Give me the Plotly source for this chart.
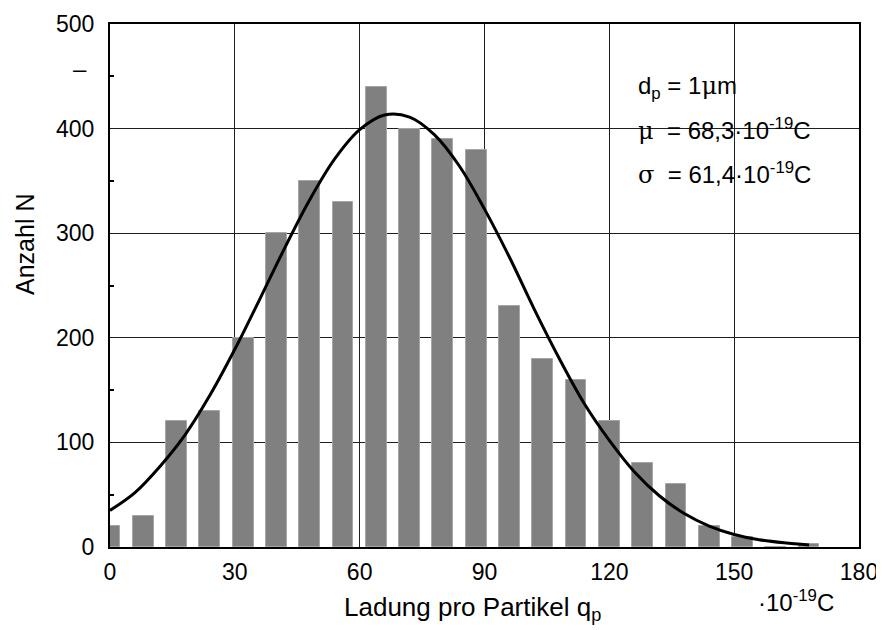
import plotly.graph_objects as go

# Histogram data (charge per particle, 1e-19 C) and counts
bar_q = [0, 8, 16, 24, 32, 40, 48, 56, 64, 72, 80, 88, 96, 104, 112, 120, 128, 136, 144, 152, 160, 168]
bar_n = [20, 30, 120, 130, 200, 300, 350, 330, 440, 400, 390, 380, 230, 180, 160, 120, 80, 60, 20, 10, 0, 3]

# Fitted distribution curve
curve_q = [0, 6, 12, 18, 24, 30, 36, 42, 48, 54, 60, 66, 72, 78, 84, 90, 96, 102, 108, 114, 120, 126,
           132, 138, 144, 150, 156, 162, 168]
curve_n = [35, 52, 77, 107, 145, 189, 237, 286, 332, 371, 399, 413, 411, 394, 364, 323, 277, 227, 180,
           137, 102, 72, 49, 32, 20, 12, 7, 4, 2]

x_ticks = [0, 30, 60, 90, 120, 150, 180]
y_ticks = [0, 100, 200, 300, 400, 500]

FONT = "Liberation Sans, Arial, sans-serif"

fig = go.Figure()
fig.add_trace(go.Bar(x=bar_q, y=bar_n, width=5, marker=dict(color="#808080", line=dict(color="#a6a6a6", width=1)),
                     showlegend=False))
fig.add_trace(go.Scatter(x=curve_q, y=curve_n, mode="lines", line=dict(color="black", width=3, shape="spline", smoothing=1),
                         showlegend=False))

# page body has an 8px margin: figure placed at (8, 8) in the window
OFF = 8
W, H = 884 - OFF, 630 - OFF
PL, PR, PT, PB = 110, 859, 24, 547  # plot area in window pixels
L, R, T, B = PL - OFF, W - (PR - OFF), PT - OFF, H - (PB - OFF)
pw, ph = PR - PL, PB - PT

def px(x):
    return (x - PL) / pw

def py(y):
    return (PB - y) / ph

fig.update_layout(
    width=W, height=H,
    margin=dict(l=L, r=R, t=T, b=B, autoexpand=False),
    paper_bgcolor="white", plot_bgcolor="white",
    font=dict(family=FONT, size=23, color="black"),
    bargap=0,
    xaxis=dict(range=[0, 180], tickvals=x_ticks, ticktext=[str(v) for v in x_ticks],
               showgrid=True, gridcolor="#1e1e1e", gridwidth=1, zeroline=False,
               showline=True, linecolor="black", linewidth=2, mirror=True,
               ticks="", ticklabelstandoff=3, layer="below traces", automargin=False,
               tickfont=dict(size=23)),
    yaxis=dict(range=[0, 500], tickvals=y_ticks, ticktext=[str(v) for v in y_ticks],
               showgrid=True, gridcolor="#1e1e1e", gridwidth=1, zeroline=False,
               showline=True, linecolor="black", linewidth=2, mirror=True,
               ticks="", ticklabelstandoff=9, automargin=False,
               minor=dict(tickvals=[50, 150, 250, 350, 450], ticks="inside", ticklen=4, tickwidth=2, tickcolor="black", showgrid=False),
               tickfont=dict(size=23)),
)

# white box behind the parameter text
fig.add_shape(type="rect", xref="paper", yref="paper", x0=px(625), x1=px(818), y0=py(205), y1=py(55),
              fillcolor="white", line=dict(width=0), layer="between")

ann = dict(xref="paper", yref="paper", showarrow=False)
f24 = dict(family=FONT, size=24, color="black")
fig.add_annotation(x=px(636), y=py(87), xanchor="left", yanchor="middle", font=f24,
                   text="d<sub>p</sub> = 1<span style='font-family:DejaVu Serif'>μ</span>m", **ann)
fig.add_annotation(x=px(636), y=py(129), xanchor="left", yanchor="middle", font=f24,
                   text="<span style='font-family:DejaVu Serif'>μ</span>  = 68,3·10<sup>-19</sup>C", **ann)
fig.add_annotation(x=px(636), y=py(173), xanchor="left", yanchor="middle", font=f24,
                   text="<span style='font-family:DejaVu Serif'>σ</span>  = 61,4·10<sup>-19</sup>C", **ann)

# axis titles and unit
fig.add_annotation(x=px(25), y=py(245), textangle=-90, xanchor="center", yanchor="middle",
                   font=dict(family=FONT, size=25, color="black"), text="Anzahl N", **ann)
fig.add_annotation(x=px(472), y=py(608), xanchor="center", yanchor="middle",
                   font=dict(family=FONT, size=26, color="black"), text="Ladung pro Partikel q<sub>p</sub>", **ann)
fig.add_annotation(x=px(796), y=py(601), xanchor="center", yanchor="middle", font=f24,
                   text="·10<sup>-19</sup>C", **ann)
fig.add_annotation(x=px(80), y=py(68), xanchor="center", yanchor="middle", font=f24, text="–", **ann)

fig.write_html("out.html")
